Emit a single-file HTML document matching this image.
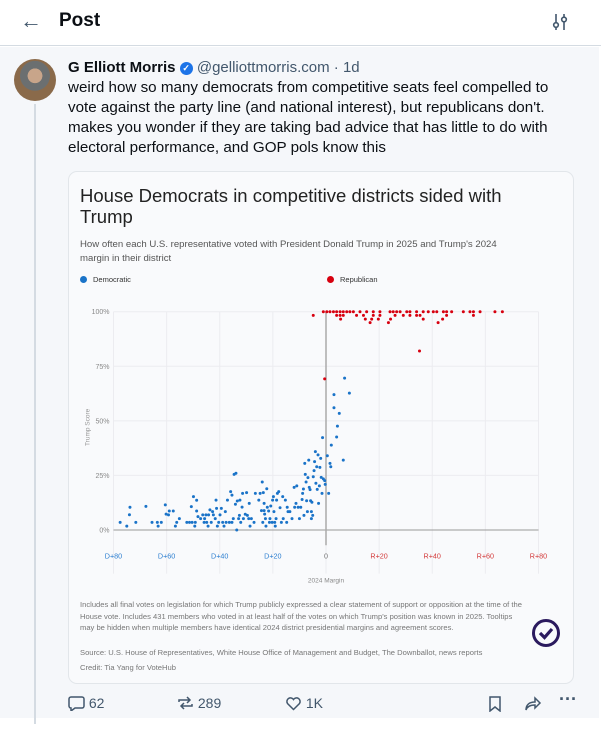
<!DOCTYPE html>
<html><head><meta charset="utf-8"><style>
*{margin:0;padding:0;box-sizing:border-box}
body{width:601px;height:731px;overflow:hidden;background:#fff;font-family:"Liberation Sans",sans-serif;position:relative;color:#0b0f14}
.abs{position:absolute}
#post{position:absolute;left:0;top:47px;width:599px;height:671px;background:#f5f7fa}
.t{position:absolute;white-space:nowrap}
</style></head><body>
<div class="abs" style="left:0;top:0;width:601px;height:46px;border-bottom:1px solid #d4dbe2;background:#fff">
  <div class="t" style="left:20px;top:8px;font-size:22px;color:#42576c">&#8592;</div>
  <div class="t" style="left:59px;top:10px;font-size:19px;font-weight:bold">Post</div>
  <svg class="abs" style="left:552px;top:13px" width="16" height="18" viewBox="0 0 16 18"><g stroke="#42576c" stroke-width="1.6" fill="none"><line x1="4" y1="1" x2="4" y2="9"/><circle cx="4" cy="12" r="2.3"/><line x1="4" y1="14" x2="4" y2="17"/><line x1="12" y1="1" x2="12" y2="4"/><circle cx="12" cy="6.5" r="2.3"/><line x1="12" y1="9" x2="12" y2="17"/></g></svg>
</div>
<div id="post">
  <div class="abs" style="left:34px;top:57px;width:2px;height:620px;background:#d4dbe2"></div>
  <div class="abs" style="left:14px;top:12px;width:42px;height:42px;border-radius:50%;background:radial-gradient(circle at 50% 40%,#c8a58a 0 22%,#6b6f70 23% 45%,#8a6a4a 46%);"></div>
  <div class="t" style="left:68px;top:12px;font-size:15px;font-weight:bold">G Elliott Morris <span style="display:inline-block;width:13px;height:13px;border-radius:50%;background:#1d74e8;color:#fff;font-size:9px;text-align:center;line-height:13px;vertical-align:1px">&#10003;</span> <span style="font-weight:normal;color:#42576c">@gelliottmorris.com · 1d</span></div>
  <div class="abs" style="left:68px;top:31px;width:530px;font-size:15.2px;line-height:20px">weird how so many democrats from competitive seats feel compelled to<br>vote against the party line (and national interest), but republicans don't.<br>makes you wonder if they are taking bad advice that has little to do with<br>electoral performance, and GOP pols know this</div>
  <div class="abs" style="left:68px;top:124px;width:506px;height:513px;border:1px solid #e2e6ea;border-radius:9px;background:#f9fafc">
    <div class="t" style="left:11px;top:13px;font-size:18.5px;line-height:21px;color:#222">House Democrats in competitive districts sided with<br>Trump</div>
    <div class="t" style="left:11px;top:66px;font-size:9.6px;line-height:14px;color:#555">How often each U.S. representative voted with President Donald Trump in 2025 and Trump's 2024<br>margin in their district</div>
    <div class="t" style="left:11px;top:103px;font-size:7.5px;color:#333"><span style="display:inline-block;width:7px;height:7px;border-radius:50%;background:#1a73c8;margin-right:6px;vertical-align:-1px"></span>Democratic</div>
    <div class="t" style="left:258px;top:103px;font-size:7.5px;color:#333"><span style="display:inline-block;width:7px;height:7px;border-radius:50%;background:#d7000f;margin-right:6px;vertical-align:-1px"></span>Republican</div>
    <div class="abs" style="left:11px;top:427px;width:445px;font-size:7.6px;line-height:11.6px;color:#777">Includes all final votes on legislation for which Trump publicly expressed a clear statement of support or opposition at the time of the House vote. Includes 431 members who voted in at least half of the votes on which Trump's position was known in 2025. Tooltips may be hidden when multiple members have identical 2024 district presidential margins and agreement scores.</div>
    <div class="t" style="left:11px;top:476px;font-size:7.6px;color:#777">Source: U.S. House of Representatives, White House Office of Management and Budget, The Downballot, news reports</div>
    <div class="t" style="left:11px;top:491px;font-size:7.6px;color:#777">Credit: Tia Yang for VoteHub</div>
    <svg class="abs" style="left:462px;top:446px" width="30" height="30"><circle cx="15" cy="15" r="12.5" fill="none" stroke="#2b1a5e" stroke-width="3"/><path d="M9 15 L13.5 19.5 L21 11" fill="none" stroke="#2b1a5e" stroke-width="3.2"/></svg>
  </div>
  <svg class="abs" id="chart" style="left:0;top:0" width="601" height="660"></svg>
  <div class="abs" style="left:0;top:648px;width:601px;height:20px;font-size:14px;color:#42576c">
    <div class="t" style="left:68px;top:0"><svg width="17" height="16" style="vertical-align:-3px"><path d="M3 2h11a2 2 0 0 1 2 2v7a2 2 0 0 1-2 2H7l-4 3v-3H3a2 2 0 0 1-2-2V4a2 2 0 0 1 2-2z" fill="none" stroke="#42576c" stroke-width="1.5"/></svg> 62</div>
    <div class="t" style="left:177px;top:0"><svg width="17" height="16" style="vertical-align:-3px"><path d="M2 7V5h11M10 2l3 3-3 3M15 9v2H4M7 14l-3-3 3-3" fill="none" stroke="#42576c" stroke-width="1.5"/></svg> 289</div>
    <div class="t" style="left:285px;top:0"><svg width="17" height="16" style="vertical-align:-3px"><path d="M8.5 14.5 2.5 8.5a3.5 3.5 0 0 1 6-4 3.5 3.5 0 0 1 6 4z" fill="none" stroke="#42576c" stroke-width="1.5"/></svg> 1K</div>
    <svg class="abs" style="left:488px;top:1px" width="14" height="16"><path d="M2 1h10v14l-5-4-5 4z" fill="none" stroke="#42576c" stroke-width="1.5"/></svg>
    <svg class="abs" style="left:524px;top:1px" width="18" height="16"><path d="M11 2l5 5-5 5V9C6 9 3 11 2 14c0-5 3-8 9-8z" fill="none" stroke="#42576c" stroke-width="1.5"/></svg>
    <div class="t" style="left:559px;top:-6px;font-size:18px;font-weight:bold">···</div>
  </div>
</div>
<script>
const xTicks=[-80,-60,-40,-20,0,20,40,60,80];
const xTickLabels=["D+80","D+60","D+40","D+20","0","R+20","R+40","R+60","R+80"];
const yTicks=[0,25,50,75,100];
const yTickLabels=["0%","25%","50%","75%","100%"];
const demMargin=[-77.5,-75,-74,-73.8,-71.6,-67.8,-65.5,-63.5,-63.2,-62,-60.5,-60.2,-59.3,-59,-57.5,-56.7,-56.2,-55.2,-52.4,-51.4,-50.7,-50.4,-49.9,-49.4,-49.2,-48.7,-48.7,-48.2,-47.2,-46.4,-45.9,-45.7,-45.2,-44.9,-44.4,-44.2,-43.7,-43.2,-42.7,-42.4,-41.7,-41.4,-41.2,-40.9,-40.4,-39.9,-39.4,-38.9,-38.4,-37.9,-37.6,-37.1,-36.4,-35.9,-35.4,-35.4,-34.9,-34.6,-34.1,-33.9,-33.6,-33.4,-32.9,-32.6,-32.4,-32.1,-31.6,-31.4,-31.1,-30.4,-29.9,-29.6,-29.1,-28.9,-28.6,-28.1,-27.1,-26.6,-25.3,-24.8,-24.3,-24,-23.8,-23.6,-23.3,-23.3,-23.1,-22.8,-22.6,-22.3,-22.1,-21.6,-21.3,-21.1,-20.8,-20.3,-20.1,-19.8,-19.6,-19.3,-19.1,-18.8,-18.6,-18.3,-17.8,-17.3,-16.8,-16.3,-16.1,-15.3,-14.8,-14.6,-14.3,-13.6,-12.8,-12,-11.8,-11.3,-11,-10.5,-10,-9.5,-9,-8.8,-8.5,-8.3,-8,-7.8,-7.5,-7.3,-7,-6.8,-6.5,-6.3,-6,-5.8,-5.5,-5.5,-5.3,-5,-4.8,-4.5,-4.3,-4,-3.8,-3.5,-3.3,-3,-2.8,-2.5,-2.3,-2,-1.8,-1.5,-1.3,-1,-0.5,-0.3,0.5,1,1.5,1.8,2,3,3,4,4.3,5,6.5,7,8.8];
const demScore=[3.5,1.8,7,10.4,3.5,10.8,3.5,3.5,1.8,3.5,11.5,7.3,6.9,8.7,8.7,1.8,3.5,5.2,3.5,3.5,10.7,3.5,15.3,1.8,3.5,13.6,8.7,6.1,5.2,6.9,3.5,5.2,6.9,3.5,1.8,6.9,9.2,3.5,8.4,6.9,5.2,13.7,9.9,1.8,3.5,6.9,9.9,3.5,1.8,8.4,3.5,13.7,3.5,17.6,16,3.5,5.2,25.5,11.8,26,0,13.3,5.2,6.7,13.7,3.5,10.5,16.8,5.2,7.2,17.1,6.7,5.2,12.2,1.8,5.2,3.5,16.8,13.7,16.8,8.9,22,3.5,17.1,12.2,8.9,7.3,5.2,1.8,18.9,10.4,8.7,3.5,5.2,11,3.5,13.7,15.3,8.4,3.5,1.8,5.2,13.7,16.8,17.6,10.2,3.5,15.3,5.2,13.7,3.5,10.4,8.4,8.4,5.2,19.5,10.4,12.2,20.2,10.4,5.2,10.4,14,16.8,18.8,6.7,30.5,25.5,22,13.4,8.4,24,32,19.5,18.5,13.4,5.2,8.4,12.7,6.7,24.4,27.2,31.3,35.9,21.4,29,18.6,34.4,12.2,20.2,28.7,32.8,24.1,16.8,42.3,23.4,22.6,20.9,34,16.8,30.5,29,38.9,62,56,42.6,47.6,53.4,32,69.6,62.7];
const repMargin=[-1,0.3,1.5,2.8,4,5.3,6.5,7.8,9,10.3,12.8,15.3,17.8,20.3,24.1,25.3,26.6,27.9,30.4,31.6,34.1,36.6,38.5,40.4,41.7,44.2,45.4,47.3,51.7,54.2,55.5,58,63.6,66.4,-4.8,4,5.3,6.5,11.5,14.1,17.8,20.3,26,29.1,31.6,34.1,35.4,45.4,55.5,5.5,14.8,17.2,19.7,24.3,36.6,43.9,16.6,23.5,42.2,-0.5,35.2];
const repScore=[100,100,100,100,100,100,100,100,100,100,100,100,100,100,100,100,100,100,100,100,100,100,100,100,100,100,100,100,100,100,100,100,100,100,98.3,98.3,98.3,98.3,98.3,98.3,98.3,98.3,98.3,98.3,98.3,98.3,98.3,98.3,98.3,96.6,96.6,96.6,96.6,96.6,96.6,96.6,95,95,95,69.2,82];
const NS="http://www.w3.org/2000/svg";
const svg=document.getElementById('chart');
const x=v=>326+v*(425/160);
const y=v=>483-v*(218.3/100);
function mk(tag,attrs){const e=document.createElementNS(NS,tag);for(const k in attrs)e.setAttribute(k,attrs[k]);svg.appendChild(e);return e;}
xTicks.forEach((t,i)=>{
  const g=mk('line',{x1:x(t),x2:x(t),y1:y(100),y2:y(-20),stroke:'#ececf0','stroke-width':1});
  
  
  const l=mk('text',{x:x(t),y:y(-13),'font-size':7.2,'text-anchor':'middle',fill:t<0?'#2d7fd0':(t>0?'#d33a3a':'#777'),'font-family':'Liberation Sans, sans-serif'});
  l.textContent=xTickLabels[i];
  
  
});
yTicks.forEach((t,i)=>{
  const g=mk('line',{x1:x(-80),x2:x(80),y1:y(t),y2:y(t),stroke:t===0?'#999':'#ececf0','stroke-width':1});
  
  
  const l=mk('text',{x:x(-80)-4,y:y(t)+2.5,'font-size':7,'text-anchor':'end',fill:'#888','font-family':'Liberation Sans, sans-serif'});
  l.textContent=yTickLabels[i];
  
  
});
const zl=mk('line',{x1:x(0),x2:x(0),y1:y(100),y2:y(-7),stroke:'#aaa','stroke-width':1.5});


const xt=mk('text',{x:x(0),y:y(-24),'font-size':6.5,'text-anchor':'middle',fill:'#888','font-family':'Liberation Sans, sans-serif'});
xt.textContent='2024 Margin';


const yt=mk('text',{x:0,y:0,'font-size':6.5,'text-anchor':'middle',fill:'#999','font-family':'Liberation Sans, sans-serif',transform:`translate(${x(-80)-24},${y(47)}) rotate(-90)`});
yt.textContent='Trump Score';


demMargin.forEach((m,i)=>{
  const c=mk('circle',{cx:x(m),cy:y(demScore[i]),r:1.5,fill:'#1a73c8'});
  
  
});
repMargin.forEach((m,i)=>{
  const c=mk('circle',{cx:x(m),cy:y(repScore[i]),r:1.5,fill:'#d7000f'});
  
  
});
</script>
</body></html>
